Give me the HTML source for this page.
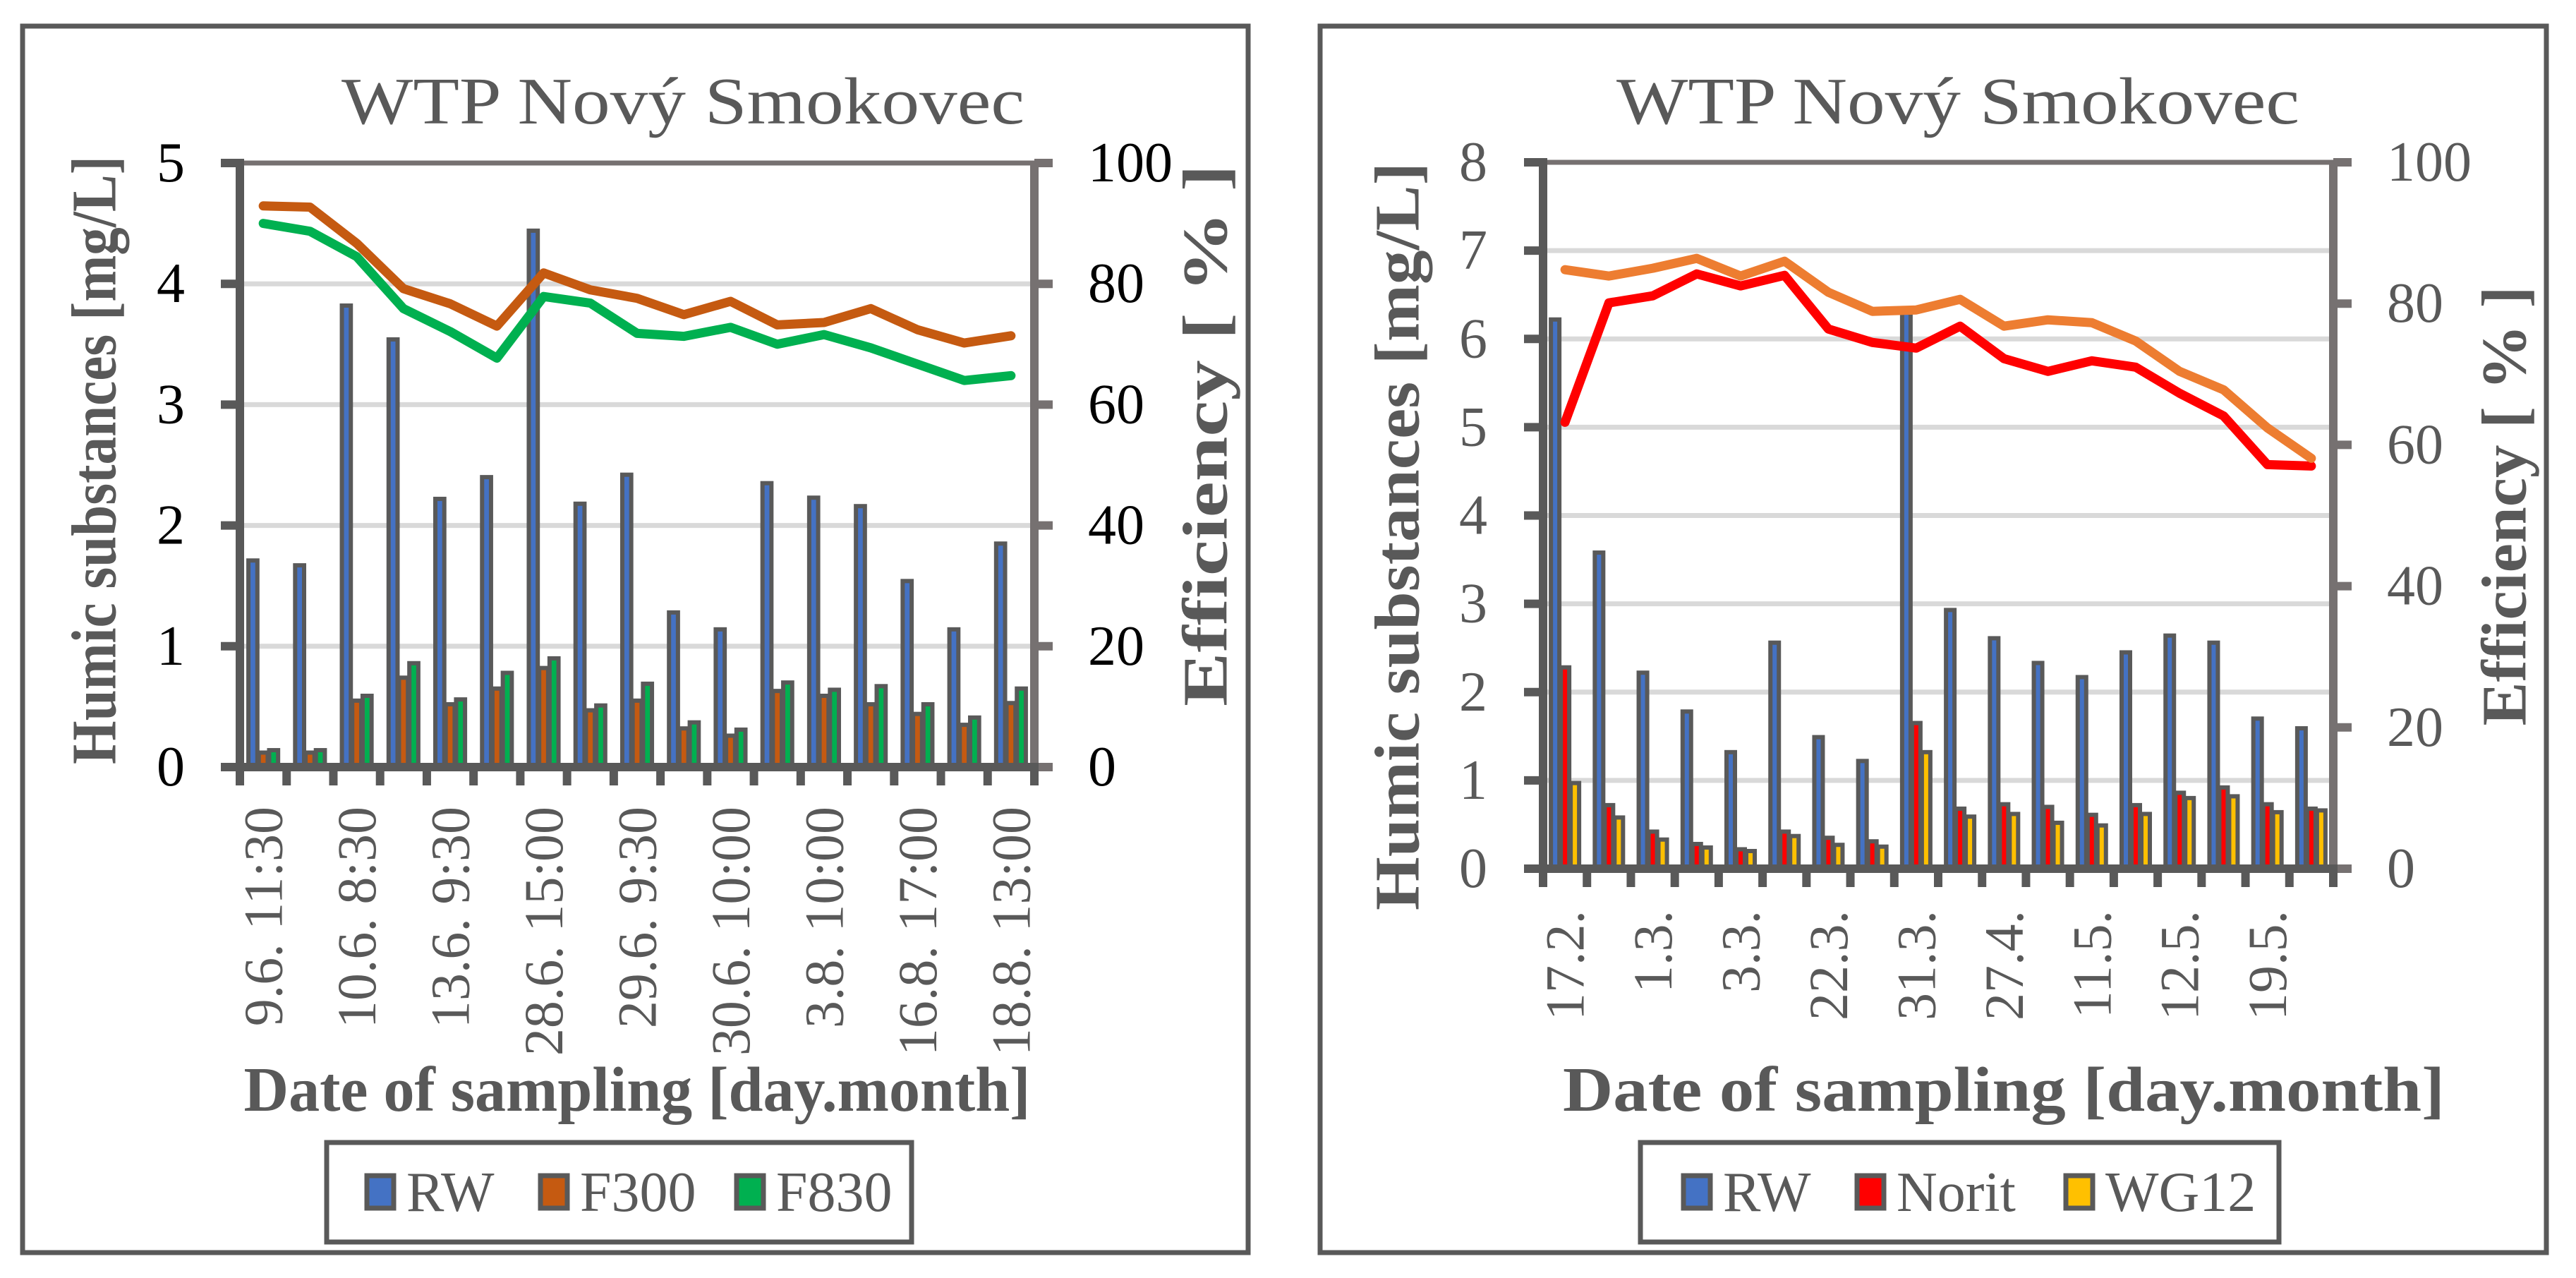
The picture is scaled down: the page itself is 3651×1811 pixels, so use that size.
<!DOCTYPE html>
<html><head><meta charset="utf-8"><style>
html,body{margin:0;padding:0;background:#fff;}
svg{display:block;font-family:"Liberation Serif",serif;}
</style></head><body>
<svg id="root" width="3651" height="1811" viewBox="0 0 3651 1811" xmlns="http://www.w3.org/2000/svg"></svg>
<script>
// ---- Left chart data ----
const leftCategories = ["9.6. 11:30","9.6.","10.6. 8:30","10.6.","13.6. 9:30","13.6.","28.6. 15:00","28.6.","29.6. 9:30","29.6.","30.6. 10:00","30.6.","3.8. 10:00","3.8.","16.8. 17:00","16.8.","18.8. 13:00"];
const leftRW   = [1.71,1.67,3.82,3.54,2.22,2.40,4.44,2.18,2.42,1.28,1.14,2.35,2.23,2.16,1.54,1.14,1.85];
const leftF300 = [0.12,0.12,0.55,0.74,0.52,0.65,0.82,0.47,0.55,0.32,0.26,0.63,0.59,0.52,0.44,0.35,0.53];
const leftF830 = [0.14,0.14,0.59,0.86,0.56,0.78,0.90,0.51,0.69,0.37,0.31,0.70,0.64,0.67,0.52,0.41,0.65];
const leftEffF300 = [92.9,92.7,86.7,79.2,76.7,73.0,81.8,79.0,77.6,74.9,77.1,73.2,73.6,75.9,72.4,70.2,71.4];
const leftEffF830 = [90.0,88.7,84.5,75.9,72.1,67.7,77.9,76.8,71.8,71.3,72.8,70.0,71.6,69.4,66.7,64.0,64.8];
const leftYTicks = ["0","1","2","3","4","5"];
const leftY2Ticks = ["0","20","40","60","80","100"];
// ---- Right chart data ----
const rightCategories = ["17.2.","","1.3.","","3.3.","","22.3.","","31.3.","","27.4.","","11.5.","","12.5.","","19.5.",""];
const rightRW    = [6.22,3.58,2.22,1.78,1.32,2.56,1.49,1.22,6.30,2.93,2.61,2.33,2.17,2.45,2.64,2.56,1.70,1.59];
const rightNorit = [2.28,0.72,0.42,0.28,0.22,0.42,0.35,0.31,1.65,0.68,0.73,0.70,0.61,0.72,0.86,0.92,0.73,0.68];
const rightWG12  = [0.97,0.58,0.33,0.24,0.20,0.37,0.27,0.25,1.32,0.59,0.62,0.52,0.49,0.62,0.80,0.82,0.64,0.66];
const rightEffWG12  = [84.8,83.9,85.0,86.4,83.9,86.0,81.6,78.9,79.1,80.6,76.8,77.7,77.3,74.7,70.4,67.8,62.4,58.1];
const rightEffNorit = [63.2,80.1,81.1,84.2,82.5,84.0,76.4,74.5,73.7,76.8,72.2,70.4,71.9,71.0,67.3,64.1,57.2,57.0];
const rightYTicks = ["0","1","2","3","4","5","6","7","8"];
const rightY2Ticks = ["0","20","40","60","80","100"];

const NS="http://www.w3.org/2000/svg";
const root=document.getElementById('root');
function mk(tag,attrs,parent){const e=document.createElementNS(NS,tag);for(const k in attrs)e.setAttribute(k,attrs[k]);(parent||root).appendChild(e);return e;}
function txt(s,attrs,parent){const e=mk('text',attrs,parent);e.textContent=s;return e;}

function drawChart(c){
  const g=mk('g',{});
  
  
  const frame=mk('rect',{x:c.fx,y:37,width:c.fw,height:1738,fill:'none',stroke:'#595959','stroke-width':7},g);
  
  
  const n=c.cats.length, cw=(c.x1-c.x0)/n;
  const yMax=c.yTicks.length-1;
  const yS=v=>c.y0-(c.y0-c.yTop)*v/yMax;
  const y2S=v=>c.y0-(c.y0-c.yTop)*v/100;
  const xC=i=>c.x0+cw*(i+0.5);
  c.yTicks.forEach((t,i)=>{
    const y=yS(i);
    if(i>0){const gl=mk('line',{x1:c.x0,x2:c.x1,y1:y,y2:y,stroke:i===yMax?'#767171':'#D9D9D9','stroke-width':7},g);
      
      }
    const tk=mk('line',{x1:c.x0-27,x2:c.x0,y1:y,y2:y,stroke:'#595959','stroke-width':12},g);
    
    
    const tl=txt(t,{x:c.ylx,y:y,'text-anchor':'end','dominant-baseline':'central','font-size':80,fill:c.tickColor},g);
    
    
  });
  c.y2Ticks.forEach((t,i)=>{
    const v=i*20,y=y2S(v);
    const tk=mk('line',{x1:c.x1,x2:c.x1+26,y1:y,y2:y,stroke:'#767171','stroke-width':12},g);
    
    
    const tl=txt(t,{x:c.x1+76,y:y,'text-anchor':'start','dominant-baseline':'central','font-size':80,fill:c.tickColor},g);
    
    
  });
  const cols=c.colors;
  c.series.forEach((arr,s)=>{
    arr.forEach((v,i)=>{
      const cx=xC(i)+(s-1)*c.bsp, top=yS(v);
      const r=mk('rect',{x:cx-c.bw/2,y:top,width:c.bw,height:c.y0-top,fill:cols[s],stroke:'#595959','stroke-width':6},g);
      
      
    });
  });
  const ax=mk('line',{x1:c.x0,x2:c.x0,y1:c.yTop-6,y2:c.y0+6,stroke:'#595959','stroke-width':12},g);
  
  
  const ax2=mk('line',{x1:c.x1,x2:c.x1,y1:c.yTop,y2:c.y0,stroke:'#767171','stroke-width':12},g);
  
  
  const xa=mk('line',{x1:c.x0-27,x2:c.x1+6,y1:c.y0,y2:c.y0,stroke:'#595959','stroke-width':12},g);
  
  
  for(let i=0;i<=n;i++){
    const x=c.x0+cw*i;
    const t=mk('line',{x1:x,x2:x,y1:c.y0,y2:c.y0+26,stroke:'#595959','stroke-width':12},g);
    
    
  }
  c.cats.forEach((s,i)=>{
    if(i%2!==0)return;
    const t=txt(s,{transform:`translate(${xC(i)},${c.xlTop}) rotate(-90)`,'text-anchor':'end','dominant-baseline':'central','font-size':78,fill:'#595959'},g);
    
    
  });
  c.lines.forEach((arr,s)=>{
    const pts=arr.map((v,i)=>xC(i)+','+y2S(v)).join(' ');
    const p=mk('polyline',{points:pts,fill:'none',stroke:c.lineColors[s],'stroke-width':13,'stroke-linejoin':'round','stroke-linecap':'round'},g);
    
    
  });
  const tt=txt('WTP Nový Smokovec',{x:c.titleX,y:175,'text-anchor':'middle','font-size':94,fill:'#595959',textLength:968,lengthAdjust:'spacingAndGlyphs'},g);
  
  
  const yt=txt('Humic substances [mg/L]',{transform:`translate(${c.ytX},${c.ytY}) rotate(-90)`,'text-anchor':'middle','dominant-baseline':'central','font-size':90,'font-weight':'bold',fill:'#595959',textLength:c.ytLen,lengthAdjust:'spacingAndGlyphs'},g);
  
  
  const y2t=txt('Efficiency [ % ]',{transform:`translate(${c.x1+243},${c.y2tY}) rotate(-90)`,'text-anchor':'middle','dominant-baseline':'central','font-size':90,'font-weight':'bold',fill:'#595959',textLength:c.y2tLen,lengthAdjust:'spacingAndGlyphs'},g);
  
  
  const xt=txt('Date of sampling [day.month]',{x:c.xtX,y:1574,'text-anchor':'middle','font-size':90,'font-weight':'bold',fill:'#595959',textLength:c.xtLen,lengthAdjust:'spacingAndGlyphs'},g);
  
  
  const lg=mk('g',{},g);
  
  
  mk('rect',{x:c.lgx,y:1619,width:c.lgw,height:141,fill:'#fff',stroke:'#595959','stroke-width':7},lg);
  c.names.forEach((nm,s)=>{
    const e=mk('g',{},lg);
    
    
    mk('rect',{x:c.lsw[s],y:1666,width:38,height:46,fill:cols[s],stroke:'#595959','stroke-width':7},e);
    txt(nm,{x:c.lsw[s]+56,y:1690,'dominant-baseline':'central','font-size':80,fill:'#595959'},e);
  });
}

drawChart({name:'left-chart',fx:32,fw:1737,x0:340,x1:1466,y0:1087,yTop:231,
  cats:leftCategories,yTicks:leftYTicks,y2Ticks:leftY2Ticks,tickColor:'#000',
  series:[leftRW,leftF300,leftF830],colors:['#4472C4','#C55A11','#00B050'],
  names:['RW','F300','F830'],lines:[leftEffF300,leftEffF830],lineColors:['#C55A11','#00B050'],
  bsp:14.7,bw:12.7,ylx:262,xlTop:1143,titleX:968,ytX:134,ytY:652,ytLen:862,
  y2tY:617,y2tLen:768,xtX:903,xtLen:1115,
  lgx:463,lgw:829,lsw:[520,766,1044]});
drawChart({name:'right-chart',fx:1871,fw:1738,x0:2187,x1:3307,y0:1231,yTop:230,
  cats:rightCategories,yTicks:rightYTicks,y2Ticks:rightY2Ticks,tickColor:'#595959',
  series:[rightRW,rightNorit,rightWG12],colors:['#4472C4','#FF0000','#FFC000'],
  names:['RW','Norit','WG12'],lines:[rightEffNorit,rightEffWG12],lineColors:['#FF0000','#ED7D31'],
  bsp:14,bw:12,ylx:2108,xlTop:1290,titleX:2775,ytX:1981,ytY:760,ytLen:1060,
  y2tY:717,y2tLen:623,xtX:2840,xtLen:1250,
  lgx:2325,lgw:905,lsw:[2386,2632,2928]});
</script>
</body></html>
